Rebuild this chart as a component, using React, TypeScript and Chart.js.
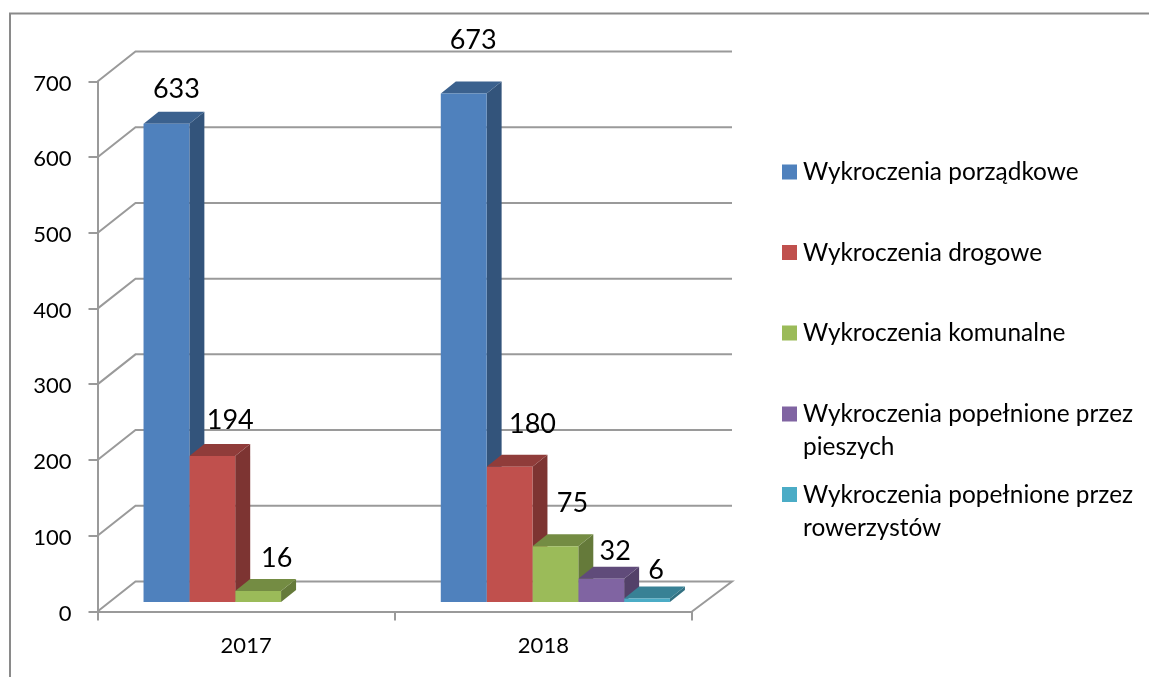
import React, { useEffect, useRef } from "react";
import { Chart, registerables } from "chart.js";

Chart.register(...registerables);

const years = ["2017", "2018"];
const seriesNames = [
  "Wykroczenia porządkowe",
  "Wykroczenia drogowe",
  "Wykroczenia komunalne",
  "Wykroczenia popełnione przez pieszych",
  "Wykroczenia popełnione przez rowerzystów",
];
const porzadkowe = [633, 673];
const drogowe = [194, 180];
const komunalne = [16, 75];
const piesi = [null, 32];
const rowerzysci = [null, 6];
const seriesValues = [porzadkowe, drogowe, komunalne, piesi, rowerzysci];
const seriesColors = ["#4F81BD", "#C0504D", "#9BBB59", "#8064A2", "#4BACC6"];

// [dx, dy] of each hand-placed value label relative to its bar's top centre, per series then year
const labelNudges = [
  [[10, -26], [9.5, -44.5]],
  [[18, -27], [23, -34]],
  [[18.5, -24], [17, -34]],
  [null, [14, -19]],
  [null, [9, -19]],
];
const legendBaselines = [180, 260.5, 341, 422, 502.5];

const FONT = "Lato, Carlito, sans-serif";
const GRID = "#9A9A9A";
const WALL_DX = 38;
const WALL_DY = -30;
const BAR_SHIFT_X = 12;
const BAR_SHIFT_Y = -8.5;
const DEPTH_X = 15;
const DEPTH_Y = -12;

function shade(hex: string, f: number) {
  const n = parseInt(hex.slice(1), 16);
  const c = [(n >> 16) & 255, (n >> 8) & 255, n & 255].map((v) => Math.round(v * f));
  return `rgb(${c[0]},${c[1]},${c[2]})`;
}

const poly = (ctx: CanvasRenderingContext2D, pts: number[][], fill: string) => {
  ctx.beginPath();
  pts.forEach(([x, y], i) => (i ? ctx.lineTo(x, y) : ctx.moveTo(x, y)));
  ctx.closePath();
  ctx.fillStyle = fill;
  ctx.fill();
};

const chart3d = {
  id: "chart3d",
  beforeDatasetsDraw(chart: any) {
    const { ctx, chartArea: a, scales } = chart;
    ctx.save();
    ctx.lineWidth = 2;
    // outer frame of the pasted picture
    ctx.strokeStyle = "#8A8A8A";
    ctx.beginPath();
    ctx.moveTo(10, 677);
    ctx.lineTo(10, 13.5);
    ctx.lineTo(1149, 13.5);
    ctx.stroke();
    // back wall and floor
    ctx.strokeStyle = GRID;
    scales.y.ticks.forEach((t: any) => {
      const y = scales.y.getPixelForValue(t.value);
      ctx.beginPath();
      ctx.moveTo(a.left, y);
      ctx.lineTo(a.left + WALL_DX, y + WALL_DY);
      ctx.lineTo(a.right + WALL_DX + 2, y + WALL_DY);
      if (t.value === 0) ctx.lineTo(a.right, y);
      ctx.stroke();
    });
    // side and top faces of every bar, left to right, under all front faces
    ctx.translate(BAR_SHIFT_X, BAR_SHIFT_Y);
    seriesValues.forEach((vals, s) => {
      const color = seriesColors[s];
      chart.getDatasetMeta(s).data.forEach((el: any, i: number) => {
        if (vals[i] == null) return;
        const l = el.x - el.width / 2;
        const r = el.x + el.width / 2;
        const t = el.y;
        const b = el.base;
        poly(ctx, [[r, t], [r + DEPTH_X, t + DEPTH_Y], [r + DEPTH_X, b + DEPTH_Y], [r, b]], shade(color, 0.65));
        poly(ctx, [[l, t], [l + DEPTH_X, t + DEPTH_Y], [r + DEPTH_X, t + DEPTH_Y], [r, t]], shade(color, 0.75));
      });
    });
    ctx.restore();
  },
  beforeDatasetDraw(chart: any) {
    chart.ctx.save();
    chart.ctx.translate(BAR_SHIFT_X, BAR_SHIFT_Y);
  },
  afterDatasetDraw(chart: any) {
    chart.ctx.restore();
  },
  afterDraw(chart: any) {
    const { ctx } = chart;
    ctx.save();
    // value labels
    ctx.fillStyle = "#000";
    ctx.font = `27px ${FONT}`;
    ctx.textAlign = "center";
    ctx.textBaseline = "alphabetic";
    seriesValues.forEach((vals, s) => {
      const meta = chart.getDatasetMeta(s);
      vals.forEach((v, i) => {
        const nudge = labelNudges[s][i];
        if (v == null || !nudge) return;
        const el = meta.data[i];
        ctx.fillText(String(v), el.x + BAR_SHIFT_X + nudge[0], el.y + BAR_SHIFT_Y + nudge[1]);
      });
    });
    // legend
    ctx.textAlign = "left";
    ctx.font = `24.4px ${FONT}`;
    chart.data.datasets.forEach((ds: any, s: number) => {
      const base = legendBaselines[s];
      ctx.fillStyle = ds.backgroundColor;
      ctx.fillRect(782, base - 15.5, 15, 15);
      ctx.fillStyle = "#000";
      const words = ds.label.split(" ");
      let line = "";
      let y = base;
      words.forEach((w: string) => {
        const next = line ? line + " " + w : w;
        if (ctx.measureText(next).width > 340) {
          ctx.fillText(line, 803, y);
          y += 33;
          line = w;
        } else line = next;
      });
      ctx.fillText(line, 803, y);
    });
    ctx.restore();
  },
};

export default function App() {
  const ref = useRef<HTMLCanvasElement>(null);
  useEffect(() => {
    const chart = new Chart(ref.current!, {
      type: "bar",
      data: {
        labels: years,
        datasets: seriesNames.map((label, i) => ({
          label,
          data: seriesValues[i],
          backgroundColor: seriesColors[i],
          clip: false,
          borderWidth: 0,
        })) as any,
      },
      plugins: [chart3d as any],
      options: {
        responsive: false,
        animation: false,
        events: [],
        layout: { padding: { left: 0, top: 81.5, right: 457, bottom: 0 } },
        datasets: { bar: { barPercentage: 1, categoryPercentage: 0.771 } },
        plugins: { legend: { display: false }, tooltip: { enabled: false } },
        scales: {
          x: {
            afterFit: (s: any) => { s.height = 65.5; },
            border: { color: GRID, width: 2 },
            grid: { color: GRID, lineWidth: 2, drawOnChartArea: false, tickLength: 9 },
            ticks: { color: "#000", font: { family: FONT, size: 22 }, padding: 12.5, maxRotation: 0 },
          },
          y: {
            min: 0,
            max: 700,
            afterFit: (s: any) => { s.width = 97.5; },
            border: { color: GRID, width: 2 },
            grid: { color: GRID, lineWidth: 2, drawOnChartArea: false, tickLength: 9 },
            ticks: { stepSize: 100, color: "#000", font: { family: FONT, size: 22 }, padding: 17, labelOffset: 2 },
          },
        },
      } as any,
    });
    return () => chart.destroy();
  }, []);
  return (
    <div style={{ position: "fixed", left: 0, top: 0, width: 1149, height: 677, background: "#fff" }}>
      <canvas ref={ref} width={1149} height={677} style={{ display: "block" }} />
    </div>
  );
}
